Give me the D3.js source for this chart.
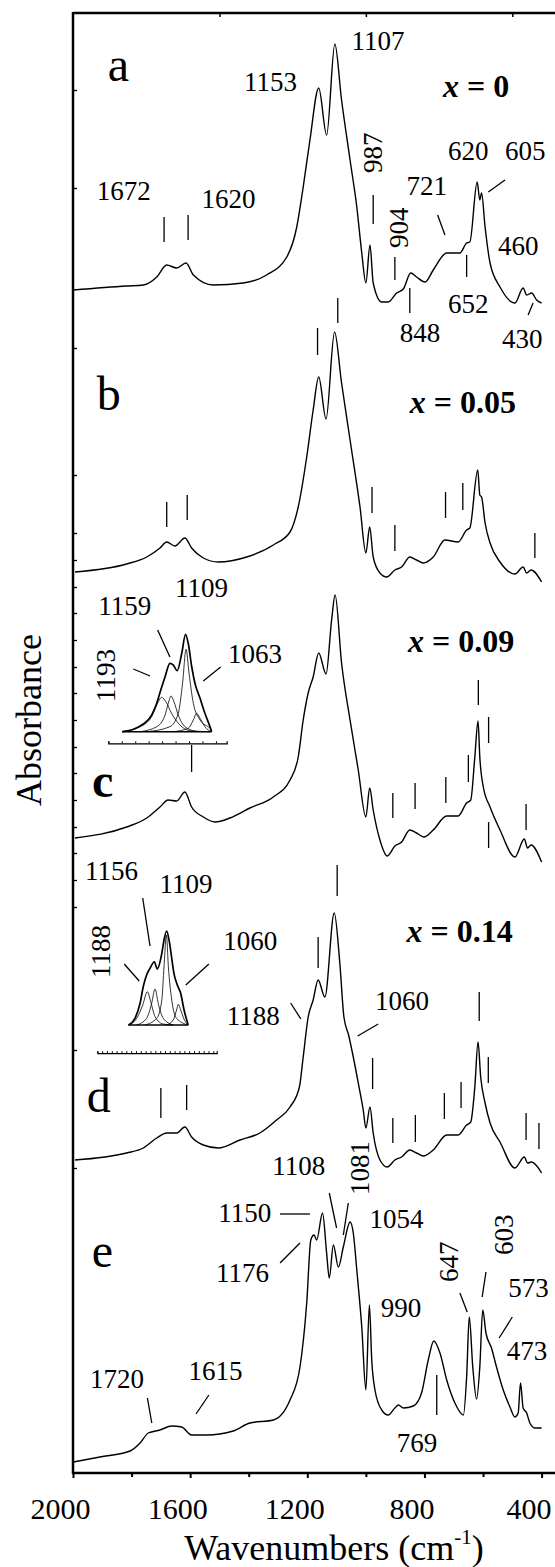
<!DOCTYPE html>
<html>
<head>
<meta charset="utf-8">
<title>FTIR spectra</title>
<script src="https://cdn.jsdelivr.net/npm/d3@7"></script>
<style>
  body { margin: 0; background: #fff; }
  svg { display: block; }
  svg text { font-family: "Liberation Serif", "Times New Roman", Times, serif; }
</style>
</head>
<body>
<div id="chart"></div>
<script>
// spectra, [wavenumber, absorbance] - already stacked (arb. units)
var specA = [[1999,11.83],[1817,11.87],[1760,11.88],[1714,11.96],[1680,12.08],[1646,12.05],[1614,12.10],[1589,11.98],[1521,11.88],[1419,11.90],[1339,11.98],[1270,12.16],[1236,12.46],[1214,12.86],[1191,13.33],[1161,13.85],[1134,13.38],[1106,14.29],[1083,13.73],[1054,13.13],[1031,12.66],[1014,12.20],[1000,11.90],[986,12.28],[975,11.90],[946,11.71],[924,11.71],[895,11.80],[872,11.84],[847,12.00],[827,11.96],[798,11.91],[770,12.03],[724,12.20],[679,12.20],[656,12.30],[645,12.31],[620,12.91],[611,12.73],[605,12.80],[593,12.46],[576,12.10],[542,11.86],[491,11.70],[463,11.85],[451,11.78],[434,11.80],[417,11.73],[400,11.70]];
var specB = [[1993,9.01],[1817,9.09],[1748,9.16],[1703,9.25],[1680,9.31],[1652,9.27],[1618,9.35],[1595,9.25],[1555,9.15],[1504,9.11],[1407,9.16],[1316,9.28],[1259,9.41],[1231,9.66],[1202,10.16],[1180,10.63],[1161,10.96],[1136,10.54],[1107,11.41],[1083,10.90],[1054,10.33],[1020,9.66],[1000,9.20],[987,9.46],[975,9.16],[952,9.00],[929,8.96],[901,9.03],[878,9.06],[850,9.16],[827,9.13],[804,9.10],[770,9.16],[730,9.33],[685,9.31],[656,9.43],[645,9.45],[618,10.03],[611,9.78],[605,9.76],[593,9.50],[576,9.30],[542,9.11],[491,8.99],[463,9.06],[451,9.00],[436,9.03],[400,8.91]];
var specC = [[1993,6.35],[1817,6.46],[1748,6.55],[1703,6.66],[1675,6.73],[1646,6.72],[1618,6.81],[1595,6.66],[1555,6.56],[1515,6.51],[1464,6.55],[1396,6.65],[1316,6.76],[1259,6.93],[1231,7.16],[1214,7.53],[1197,7.80],[1180,7.96],[1161,8.20],[1136,7.99],[1117,8.53],[1105,8.78],[1083,8.10],[1054,7.53],[1026,7.03],[1000,6.56],[987,6.85],[975,6.63],[952,6.33],[927,6.17],[901,6.27],[878,6.31],[850,6.43],[827,6.40],[802,6.36],[770,6.43],[724,6.57],[685,6.57],[656,6.70],[642,6.73],[628,7.16],[617,7.52],[611,7.16],[599,6.86],[576,6.66],[542,6.43],[491,6.16],[459,6.34],[448,6.25],[436,6.28],[400,6.11]];
var specD = [[1993,3.13],[1817,3.20],[1760,3.25],[1714,3.35],[1680,3.40],[1646,3.40],[1618,3.46],[1595,3.36],[1555,3.28],[1504,3.25],[1430,3.33],[1362,3.40],[1305,3.53],[1259,3.66],[1227,3.86],[1214,4.16],[1197,4.56],[1180,4.73],[1163,4.93],[1140,4.76],[1108,5.60],[1089,5.10],[1075,4.56],[1059,4.38],[1043,4.16],[1026,3.90],[1009,3.63],[1000,3.45],[986,3.66],[975,3.40],[952,3.13],[927,3.06],[901,3.13],[878,3.16],[850,3.23],[827,3.20],[804,3.17],[770,3.23],[724,3.38],[685,3.38],[656,3.48],[642,3.51],[628,3.86],[617,4.31],[608,3.96],[593,3.70],[576,3.50],[542,3.31],[491,3.05],[459,3.16],[448,3.10],[434,3.11],[400,3.00]];
var specE = [[1999,0.11],[1908,0.16],[1805,0.22],[1771,0.30],[1743,0.40],[1703,0.43],[1663,0.47],[1629,0.46],[1595,0.38],[1544,0.38],[1453,0.42],[1396,0.50],[1316,0.53],[1259,0.73],[1225,1.06],[1202,1.70],[1188,2.33],[1177,2.38],[1168,2.33],[1148,2.60],[1134,2.20],[1125,1.95],[1111,2.28],[1094,2.06],[1077,2.26],[1054,2.51],[1043,2.40],[1031,2.03],[1014,1.46],[1000,0.83],[988,1.68],[980,1.13],[969,0.83],[946,0.63],[924,0.58],[901,0.65],[889,0.68],[872,0.65],[838,0.67],[810,0.80],[787,1.13],[768,1.32],[747,1.20],[724,0.93],[696,0.70],[667,0.58],[656,0.96],[647,1.56],[635,1.06],[622,0.74],[611,1.06],[601,1.63],[590,1.40],[571,1.25],[554,1.06],[531,0.83],[508,0.66],[491,0.56],[480,0.60],[472,0.90],[463,0.65],[451,0.60],[440,0.50],[423,0.45],[400,0.45]];

// inset fits (normalised intensity)
var insetCEnv = [[1343,0],[1302,0.025],[1265,0.079],[1234,0.171],[1215,0.292],[1200,0.428],[1184,0.565],[1166,0.702],[1154,0.685],[1139,0.626],[1122,0.805],[1108,1.0],[1098,0.908],[1085,0.667],[1073,0.497],[1054,0.343],[1036,0.189],[1017,0.051],[1011,0]];
var insetC1193 = [[1343,0],[1277,0.051],[1234,0.154],[1209,0.308],[1197,0.353],[1181,0.308],[1160,0.189],[1129,0.069],[1092,0.01],[1042,0]];
var insetC1159 = [[1277,0],[1215,0.051],[1184,0.171],[1172,0.292],[1162,0.367],[1151,0.308],[1135,0.171],[1110,0.051],[1067,0.005],[1017,0]];
var insetC1109 = [[1252,0],[1166,0.051],[1135,0.189],[1119,0.497],[1106,0.846],[1095,0.6],[1079,0.292],[1054,0.12],[1017,0.035],[1011,0.017]];
var insetC1063 = [[1154,0],[1098,0.035],[1079,0.12],[1067,0.189],[1054,0.138],[1036,0.051],[1011,0]];
var insetCBase = [[1343,0],[1011,0]];

var insetDEnv = [[1266,0],[1239,0.071],[1218,0.231],[1205,0.407],[1191,0.532],[1177,0.603],[1159,0.673],[1147,0.596],[1128,0.763],[1119,0.904],[1108,1.0],[1097,0.886],[1087,0.710],[1078,0.550],[1064,0.426],[1050,0.337],[1036,0.160],[1019,0]];
var insetD1188 = [[1266,0],[1232,0.071],[1207,0.213],[1188,0.354],[1174,0.248],[1156,0.088],[1122,0.01],[1081,0]];
var insetD1156 = [[1232,0],[1191,0.071],[1170,0.231],[1156,0.383],[1143,0.231],[1122,0.071],[1081,0]];
var insetD1109 = [[1198,0],[1149,0.071],[1128,0.266],[1119,0.620],[1109,0.957],[1101,0.620],[1087,0.266],[1067,0.071],[1019,0]];
var insetD1060 = [[1108,0],[1081,0.053],[1067,0.160],[1060,0.220],[1050,0.160],[1036,0.061],[1019,0]];
var insetDBase = [[1266,0],[1019,0]];

// axis ticks
var xTicks = [2000, 1600, 1200, 800, 400];
var xMinor = [1800, 1400, 1000, 600];
var topTicks = [1500, 1000, 500];
var yTicks = [13.83, 12.85, 11.25, 9.98, 9.4, 9.13, 8.86, 8.6, 8.33, 8.06, 7.8, 7.53, 7.26, 7.0, 6.73, 6.46, 6.2, 5.93, 5.66, 4.23, 3.05];

// band markers / leader lines [w1, a1, w2, a2]
var marksA = [[1689,12.56,1689,12.31],[1607,12.58,1607,12.33],[975,12.78,975,12.49],[901,12.16,901,11.93],[850,11.85,850,11.60],[755,12.58,730,12.38],[656,12.18,656,11.96],[582,12.81,525,12.93],[446,11.58,429,11.70]];
var marksB = [[1680,9.71,1680,9.46],[1610,9.78,1610,9.53],[1165,11.45,1165,11.18],[1096,11.75,1096,11.50],[979,9.86,979,9.60],[901,9.48,901,9.22],[728,9.81,728,9.55],[669,9.90,669,9.63],[423,9.40,423,9.15]];
var marksC = [[1595,7.28,1595,7.01],[908,6.80,908,6.55],[832,6.90,832,6.64],[727,6.96,727,6.70],[650,7.18,650,6.91],[616,7.93,616,7.68],[581,7.56,581,7.30],[581,6.51,581,6.25],[453,6.69,453,6.43],[1711,8.43,1669,8.16],[1794,8.04,1737,7.97],[1555,7.92,1496,8.06]];
var marksD = [[1700,3.85,1700,3.55],[1612,3.88,1612,3.63],[1163,5.36,1163,5.05],[1098,6.08,1098,5.77],[977,4.15,977,3.84],[908,3.55,908,3.30],[831,3.58,831,3.31],[732,3.80,732,3.54],[675,3.91,675,3.65],[613,4.81,613,4.52],[582,4.16,582,3.90],[453,3.60,453,3.33],[409,3.50,409,3.24],[1257,4.70,1222,4.54],[1028,4.37,958,4.49],[1762,5.75,1737,5.27],[1825,5.09,1774,4.92],[1536,5.09,1615,4.88]];
var marksE = [[1293,2.59,1191,2.59],[1293,2.10,1225,2.30],[1125,2.80,1100,2.45],[1060,2.70,1077,2.38],[679,1.80,654,1.61],[590,2.01,603,1.76],[500,1.56,545,1.35],[758,0.98,758,0.58],[1746,0.75,1731,0.50],[1536,0.78,1580,0.59]];

// band labels [text, w, a, rotated]
var bandLabels = [
  ["1107",1049,14.23],["1153",1416,13.82],["987",945,13.00,1],["904",856,12.25,1],["1672",1919,12.73],["1620",1561,12.65],
  ["721",861,12.78],["620",720,13.13],["605",525,13.13],["460",549,12.18],["652",720,11.60],["848",884,11.31],["430",535,11.25],
  ["1109",1652,8.76],["1159",1914,8.58],["1193",1857,7.71,1],["1063",1471,8.10],
  ["1156",1959,5.93],["1109",1705,5.80],["1188",1874,4.95,1],["1060",1487,5.23],["1188",1475,4.48],["1060",969,4.63],
  ["1108",1320,2.98],["1081",989,2.78,1],["1150",1504,2.51],["1176",1512,1.91],["1054",988,2.45],["990",949,1.56],
  ["647",686,1.91,1],["603",498,2.18,1],["573",514,1.76],["473",519,1.13],["769",895,0.21],["1720",1942,0.85],["1615",1606,0.93]
];
var panelLetters = [["a",1881,13.92],["b",1919,10.63],["c",1935,6.76],["d",1953,3.61],["e",1936,2.06]];
var compLabels = [["0",737,13.76],["0.05",850,10.60],["0.09",856,8.21],["0.14",861,5.31]];

var W = 555, H = 1567;
var FONT = "Liberation Serif, Times New Roman, serif";

var x = d3.scaleLinear().domain([2000, 400]).range([73, 541.6]);
var y = d3.scaleLinear().domain([0, 14.6]).range([1473, 13]);

var svg = d3.select("#chart").append("svg")
    .attr("width", W)
    .attr("height", H)
    .attr("font-family", FONT);

var line = d3.line()
    .x(function (d) { return x(d[0]); })
    .y(function (d) { return y(d[1]); })
    .curve(d3.curveMonotoneX);

// frame
svg.append("line").attr("x1", 73).attr("x2", W).attr("y1", 13).attr("y2", 13)
    .attr("stroke", "#000").attr("stroke-width", 2.5);
svg.append("line").attr("x1", 73).attr("x2", 73).attr("y1", 12).attr("y2", 1474)
    .attr("stroke", "#000").attr("stroke-width", 2.5);
svg.append("line").attr("x1", 72).attr("x2", W).attr("y1", 1473).attr("y2", 1473)
    .attr("stroke", "#000").attr("stroke-width", 2.5);

// bottom axis
var xAxis = svg.append("g")
    .attr("transform", "translate(0,1473)")
    .call(d3.axisBottom(x).tickValues(xTicks).tickSize(5).tickFormat(d3.format("d")));
xAxis.attr("font-family", FONT);
xAxis.select(".domain").remove();
xAxis.selectAll("line").attr("stroke-width", 2);
xAxis.selectAll("text")
    .attr("font-family", FONT)
    .attr("font-size", "30px")
    .attr("fill", "#000")
    .attr("y", 25)
    .attr("dx", -13);

var xMinorAxis = svg.append("g")
    .attr("transform", "translate(0,1473)")
    .call(d3.axisBottom(x).tickValues(xMinor).tickSize(4).tickFormat(""));
xMinorAxis.select(".domain").remove();
xMinorAxis.selectAll("line").attr("stroke-width", 2);

// top ticks
var topAxis = svg.append("g")
    .attr("transform", "translate(0,13)")
    .call(d3.axisBottom(x).tickValues(topTicks).tickSize(4).tickFormat(""));
topAxis.select(".domain").remove();
topAxis.selectAll("line").attr("stroke-width", 1.5);

// left ticks
var yAxis = svg.append("g")
    .attr("transform", "translate(73,0)")
    .call(d3.axisRight(y).tickValues(yTicks).tickSize(4).tickFormat(""));
yAxis.select(".domain").remove();
yAxis.selectAll("line").attr("stroke-width", 1.3);

// spectra
[specA, specB, specC, specD, specE].forEach(function (s) {
    svg.append("path")
        .datum(s)
        .attr("d", line)
        .attr("fill", "none")
        .attr("stroke", "#000")
        .attr("stroke-width", 1.4);
});

// markers
[marksA, marksB, marksC, marksD, marksE].forEach(function (m) {
    svg.append("g").selectAll("line")
        .data(m)
        .enter()
        .append("line")
        .attr("x1", function (d) { return x(d[0]); })
        .attr("y1", function (d) { return y(d[1]); })
        .attr("x2", function (d) { return x(d[2]); })
        .attr("y2", function (d) { return y(d[3]); })
        .attr("stroke", "#000")
        .attr("stroke-width", 1.3);
});

// insets
function drawInset(xr, yr, axisA, tickStep, env, comps, base) {
    var xi = d3.scaleLinear().domain([1395, xr[2]]).range([xr[0], xr[1]]);
    var yi = d3.scaleLinear().domain([0, 1]).range(yr);
    var li = d3.line()
        .x(function (d) { return xi(d[0]); })
        .y(function (d) { return yi(d[1]); })
        .curve(d3.curveMonotoneX);
    var g = svg.append("g");
    var ax = g.append("g")
        .attr("transform", "translate(0," + yi(axisA) + ")")
        .call(d3.axisTop(xi).tickValues(d3.range(1395, xr[2] - 1, -tickStep)).tickSize(2).tickFormat(""));
    ax.select(".domain").attr("stroke-width", 1.2);
    ax.selectAll("line").attr("stroke-width", 1);
    comps.forEach(function (c) {
        g.append("path").datum(c).attr("d", li)
            .attr("fill", "none").attr("stroke", "#000").attr("stroke-width", 0.8);
    });
    g.append("path").datum(base).attr("d", li)
        .attr("fill", "none").attr("stroke", "#000").attr("stroke-width", 1.6);
    g.append("path").datum(env).attr("d", li)
        .attr("fill", "none").attr("stroke", "#000").attr("stroke-width", 1.7);
}
drawInset([108.3, 226.7, 955], [731.7, 634.3], -0.119, 50, insetCEnv,
    [insetC1193, insetC1159, insetC1109, insetC1063], insetCBase);
drawInset([97.3, 216.7, 901], [1025, 931], -0.30, 20, insetDEnv,
    [insetD1188, insetD1156, insetD1109, insetD1060], insetDBase);

// band labels
bandLabels.forEach(function (d) {
    var t = svg.append("text")
        .attr("font-family", FONT)
        .attr("font-size", "27px")
        .attr("fill", "#000")
        .text(d[0]);
    if (d[3]) {
        t.attr("transform", "translate(" + x(d[1]) + "," + y(d[2]) + ") rotate(-90)");
    } else {
        t.attr("x", x(d[1])).attr("y", y(d[2]));
    }
});

panelLetters.forEach(function (d) {
    svg.append("text")
        .attr("x", x(d[1]))
        .attr("y", y(d[2]))
        .attr("font-family", FONT)
        .attr("font-size", "48px")
        .attr("font-weight", d[0] == "c" ? "bold" : "normal")
        .text(d[0]);
});

compLabels.forEach(function (d) {
    var t = svg.append("text")
        .attr("x", x(d[1]))
        .attr("y", y(d[2]))
        .attr("font-family", FONT)
        .attr("font-size", "32px")
        .attr("font-weight", "bold");
    t.append("tspan").attr("font-style", "italic").text("x");
    t.append("tspan").text(" = " + d[0]);
});

// axis titles
svg.append("text")
    .attr("transform", "translate(41,720) rotate(-90)")
    .attr("text-anchor", "middle")
    .attr("font-family", FONT)
    .attr("font-size", "36px")
    .text("Absorbance");

var xt = svg.append("text")
    .attr("x", 334)
    .attr("y", 1560)
    .attr("text-anchor", "middle")
    .attr("font-family", FONT)
    .attr("font-size", "36px");
xt.append("tspan").text("Wavenumbers (cm");
xt.append("tspan").attr("font-size", "21px").attr("dy", -16).text("-1");
xt.append("tspan").attr("dy", 16).text(")");
</script>
</body>
</html>
